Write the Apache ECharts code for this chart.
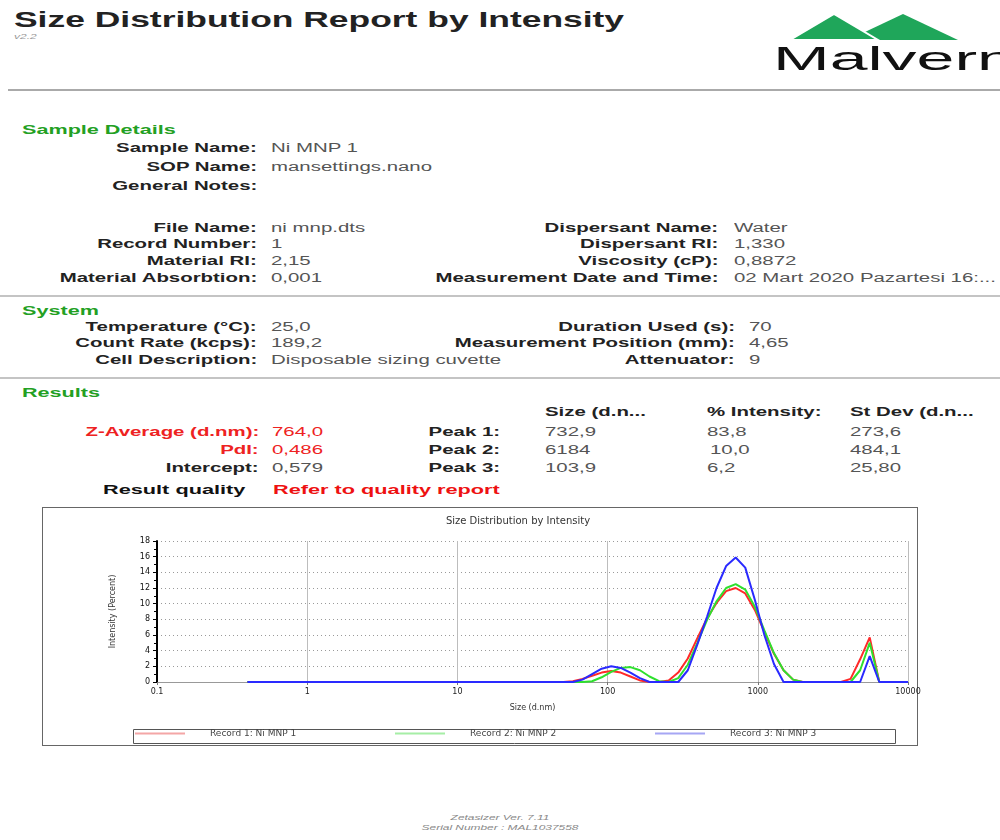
<!DOCTYPE html>
<html>
<head>
<meta charset="utf-8">
<title>Size Distribution Report by Intensity</title>
<script src="https://cdn.jsdelivr.net/npm/echarts/dist/echarts.min.js"></script>
<style>
  html, body { margin: 0; padding: 0; background: #fff; }
  body { width: 1000px; height: 840px; position: relative; overflow: hidden; font-family: 'Liberation Sans', Arial, sans-serif; }
  .t { position: absolute; white-space: nowrap; line-height: 16px; height: 16px; }
  .title { font-size: 22px; font-weight: bold; color: #222; line-height: 26px; height: 26px; }
  .ver { font-size: 8px; font-style: italic; color: #999; }
  .sec { font-size: 12px; font-weight: bold; color: #23a023; }
  .lbl { font-size: 12px; font-weight: bold; color: #222; }
  .val { font-size: 12px; color: #555; }
  .rlbl { font-size: 12px; font-weight: bold; color: #ee2222; }
  .rval { font-size: 12px; color: #ee2222; }
  .q { font-size: 13px; font-weight: bold; color: #111; }
  .rq { font-size: 13px; font-weight: bold; color: #ee1111; }
  .foot { font-size: 7px; font-style: italic; color: #888; }
  .logo { font-size: 34px; color: #111; line-height: 36px; height: 36px; }
  .rule { position: absolute; left: 0; width: 1000px; background: #c4c4c4; }
  .chart-frame { position: absolute; left: 42px; top: 507px; width: 874px; height: 237px; border: 1px solid #666; background: #fff; }
  .chart { position: absolute; left: 43px; top: 508px; width: 910px; height: 237px; }
</style>
</head>
<body>
<svg style="position:absolute;left:0;top:0" width="1000" height="60">
  <polygon points="848,40 903,14 958,40" fill="#1fa65a"/>
  <polygon points="790,40 834,14 878,40" fill="#1fa65a" stroke="#fff" stroke-width="2"/>
</svg>
<div class="rule" style="top:89px;left:8px;height:2px;background:#aaa"></div>
<div class="rule" style="top:295px;height:2px"></div>
<div class="rule" style="top:377px;height:2px"></div>
<div class="chart-frame"></div>
<div id="main" class="chart"></div>

<script>
// size classes (d.nm)
const sizes = [
  0.4, 0.4632, 0.5365, 0.6213, 0.7195, 0.8332, 0.9649, 1.117, 1.294, 1.499,
  1.736, 2.010, 2.328, 2.696, 3.122, 3.615, 4.187, 4.849, 5.615, 6.503,
  7.531, 8.721, 10.10, 11.70, 13.54, 15.69, 18.17, 21.04, 24.36, 28.21,
  32.67, 37.84, 43.82, 50.75, 58.77, 68.06, 78.82, 91.28, 105.7, 122.4,
  141.8, 164.2, 190.1, 220.2, 255.0, 295.3, 342.0, 396.1, 458.7, 531.2,
  615.1, 712.4, 825.0, 955.4, 1106, 1281, 1484, 1718, 1990, 2305,
  2669, 3091, 3580, 4145, 4801, 5560, 6439, 7456, 8635, 10000
]

// intensity (percent)
const record1 = [
  0, 0, 0, 0, 0, 0, 0, 0, 0, 0,
  0, 0, 0, 0, 0, 0, 0, 0, 0, 0,
  0, 0, 0, 0, 0, 0, 0, 0, 0, 0,
  0, 0, 0, 0, 0.1, 0.4, 0.8, 1.2, 1.4, 1.2,
  0.7, 0.2, 0, 0, 0.2, 1.2, 3.0, 5.6, 8.1, 10.1,
  11.6, 12.0, 11.3, 9.2, 6.4, 3.6, 1.5, 0.3, 0, 0,
  0, 0, 0, 0.4, 2.9, 5.7, 0, 0, 0, 0
]
const record2 = [
  0, 0, 0, 0, 0, 0, 0, 0, 0, 0,
  0, 0, 0, 0, 0, 0, 0, 0, 0, 0,
  0, 0, 0, 0, 0, 0, 0, 0, 0, 0,
  0, 0, 0, 0, 0, 0, 0.1, 0.6, 1.3, 1.8,
  1.9, 1.5, 0.7, 0.1, 0, 0.5, 2.2, 5.0, 7.9, 10.3,
  12.0, 12.5, 11.8, 9.6, 6.6, 3.7, 1.5, 0.3, 0, 0,
  0, 0, 0, 0, 1.5, 5.0, 0, 0, 0, 0
]
const record3 = [
  0, 0, 0, 0, 0, 0, 0, 0, 0, 0,
  0, 0, 0, 0, 0, 0, 0, 0, 0, 0,
  0, 0, 0, 0, 0, 0, 0, 0, 0, 0,
  0, 0, 0, 0, 0, 0.3, 1.0, 1.7, 2.0, 1.8,
  1.2, 0.5, 0, 0, 0, 0, 1.5, 4.8, 8.3, 12.0,
  14.8, 15.9, 14.6, 10.5, 6.0, 2.3, 0, 0, 0, 0,
  0, 0, 0, 0, 0, 3.3, 0, 0, 0, 0
]

const recordNames = ['Record 1: Ni MNP 1', 'Record 2: Ni MNP 2', 'Record 3: Ni MNP 3']
const lineColors = ['#ff2a2a', '#2ee02e', '#2a2aff']
const legendColors = ['#f4a6a6', '#a6eea6', '#a6a6f4']
const xTickLabels = ['0.1', '1', '10', '100', '1000', '10000']

// report text: [text, x, y(center), class, anchor, scaleX]
const texts = [
  ['Size Distribution Report by Intensity', 14, 20, 'title', 'left', 1.61],
  ['v2.2', 14, 37, 'ver', 'left', 1.5],
  ['Malvern', 773, 58, 'logo', 'left', 2.0],

  ['Sample Details', 22, 130, 'sec', 'left', 1.8],
  ['Sample Name:', 257, 148, 'lbl', 'right', 1.7],
  ['Ni MNP 1', 271, 148, 'val', 'left', 1.7],
  ['SOP Name:', 257, 167, 'lbl', 'right', 1.7],
  ['mansettings.nano', 271, 167, 'val', 'left', 1.7],
  ['General Notes:', 257, 186, 'lbl', 'right', 1.7],

  ['File Name:', 257, 228, 'lbl', 'right', 1.7],
  ['ni mnp.dts', 271, 228, 'val', 'left', 1.7],
  ['Record Number:', 257, 244, 'lbl', 'right', 1.7],
  ['1', 271, 244, 'val', 'left', 1.7],
  ['Material RI:', 257, 261, 'lbl', 'right', 1.7],
  ['2,15', 271, 261, 'val', 'left', 1.7],
  ['Material Absorbtion:', 257, 278, 'lbl', 'right', 1.7],
  ['0,001', 271, 278, 'val', 'left', 1.7],
  ['Dispersant Name:', 718, 228, 'lbl', 'right', 1.7],
  ['Water', 734, 228, 'val', 'left', 1.7],
  ['Dispersant RI:', 718, 244, 'lbl', 'right', 1.7],
  ['1,330', 734, 244, 'val', 'left', 1.7],
  ['Viscosity (cP):', 718, 261, 'lbl', 'right', 1.7],
  ['0,8872', 734, 261, 'val', 'left', 1.7],
  ['Measurement Date and Time:', 718, 278, 'lbl', 'right', 1.7],
  ['02 Mart 2020 Pazartesi 16:...', 734, 278, 'val', 'left', 1.7],

  ['System', 22, 311, 'sec', 'left', 1.8],
  ['Temperature (°C):', 257, 327, 'lbl', 'right', 1.7],
  ['25,0', 271, 327, 'val', 'left', 1.7],
  ['Count Rate (kcps):', 257, 343, 'lbl', 'right', 1.7],
  ['189,2', 271, 343, 'val', 'left', 1.7],
  ['Cell Description:', 257, 360, 'lbl', 'right', 1.7],
  ['Disposable sizing cuvette', 271, 360, 'val', 'left', 1.7],
  ['Duration Used (s):', 735, 327, 'lbl', 'right', 1.7],
  ['70', 749, 327, 'val', 'left', 1.7],
  ['Measurement Position (mm):', 735, 343, 'lbl', 'right', 1.7],
  ['4,65', 749, 343, 'val', 'left', 1.7],
  ['Attenuator:', 735, 360, 'lbl', 'right', 1.7],
  ['9', 749, 360, 'val', 'left', 1.7],

  ['Results', 22, 393, 'sec', 'left', 1.8],
  ['Size (d.n...', 545, 412, 'lbl', 'left', 1.7],
  ['% Intensity:', 707, 412, 'lbl', 'left', 1.7],
  ['St Dev (d.n...', 850, 412, 'lbl', 'left', 1.7],
  ['Z-Average (d.nm):', 259, 432, 'rlbl', 'right', 1.7],
  ['764,0', 272, 432, 'rval', 'left', 1.7],
  ['PdI:', 259, 450, 'rlbl', 'right', 1.7],
  ['0,486', 272, 450, 'rval', 'left', 1.7],
  ['Intercept:', 259, 468, 'lbl', 'right', 1.7],
  ['0,579', 272, 468, 'val', 'left', 1.7],
  ['Peak 1:', 500, 432, 'lbl', 'right', 1.7],
  ['Peak 2:', 500, 450, 'lbl', 'right', 1.7],
  ['Peak 3:', 500, 468, 'lbl', 'right', 1.7],
  ['732,9', 545, 432, 'val', 'left', 1.7],
  ['6184', 545, 450, 'val', 'left', 1.7],
  ['103,9', 545, 468, 'val', 'left', 1.7],
  ['83,8', 707, 432, 'val', 'left', 1.7],
  ['10,0', 710, 450, 'val', 'left', 1.7],
  ['6,2', 707, 468, 'val', 'left', 1.7],
  ['273,6', 850, 432, 'val', 'left', 1.7],
  ['484,1', 850, 450, 'val', 'left', 1.7],
  ['25,80', 850, 468, 'val', 'left', 1.7],
  ['Result quality', 103, 490, 'q', 'left', 1.67],
  ['Refer to quality report', 273, 490, 'rq', 'left', 1.67],

  ['Zetasizer Ver. 7.11', 500, 818, 'foot', 'center', 1.7],
  ['Serial Number : MAL1037558', 500, 828, 'foot', 'center', 1.7]
]

texts.forEach(([txt, x, y, cls, anchor, k]) => {
  let el = document.createElement('div')
  el.className = 't ' + cls
  el.textContent = txt
  document.body.appendChild(el)
  let h = el.offsetHeight
  el.style.top = (y - h / 2) + 'px'
  if (anchor === 'right') {
    el.style.right = (1000 - x) + 'px'
    el.style.transformOrigin = 'right center'
    el.style.transform = 'scaleX(' + k + ')'
  } else if (anchor === 'center') {
    el.style.left = x + 'px'
    el.style.transformOrigin = 'center center'
    el.style.transform = 'translateX(-50%) scaleX(' + k + ')'
  } else {
    el.style.left = x + 'px'
    el.style.transformOrigin = 'left center'
    el.style.transform = 'scaleX(' + k + ')'
  }
})

let myChart = echarts.init(document.getElementById('main'))
const records = [record1, record2, record3]

// one legend per record so the items sit at the report's fixed slots
const legendLeft = [92, 352, 612]

let option = {
  animation: false,
  textStyle: { fontFamily: 'Liberation Sans' },
  title: {
    text: 'Size Distribution by Intensity',
    left: 470,
    top: 3,
    textAlign: 'center',
    textStyle: { fontSize: 10, fontWeight: 'normal', color: '#333', fontFamily: 'DejaVu Sans' }
  },
  grid: { left: 114, width: 751, top: 33, bottom: 63, containLabel: false, outerBoundsMode: 'none' },
  graphic: [
    {
      type: 'rect',
      left: 88,
      top: 219,
      shape: { width: 762, height: 14 },
      style: { fill: 'none', stroke: '#555', lineWidth: 1 }
    }
  ],
  legend: recordNames.map((n, i) => ({
    left: legendLeft[i],
    top: 221,
    icon: 'rect',
    itemWidth: 50,
    itemHeight: 2,
    padding: 0,
    textStyle: { fontSize: 9, color: '#444', padding: [0, 0, 0, 20], fontFamily: 'DejaVu Sans' },
    data: [{ name: n, itemStyle: { color: legendColors[i] } }]
  })),
  xAxis: {
    type: 'log',
    logBase: 10,
    min: 0.1,
    max: 10000,
    name: 'Size (d.nm)',
    nameLocation: 'middle',
    nameGap: 22,
    nameTextStyle: { fontSize: 8, color: '#333', fontFamily: 'DejaVu Sans' },
    axisLine: { lineStyle: { color: '#999' } },
    axisTick: { show: true, length: 3, lineStyle: { color: '#777' } },
    axisLabel: {
      fontSize: 8,
      color: '#222',
      margin: 6,
      fontFamily: 'DejaVu Sans',
      formatter: (v) => xTickLabels[Math.round(Math.log10(v)) + 1]
    },
    splitLine: { show: true, lineStyle: { color: '#bdbdbd', width: 1 } }
  },
  yAxis: {
    type: 'value',
    min: 0,
    max: 18,
    interval: 2,
    name: 'Intensity (Percent)',
    nameLocation: 'middle',
    nameGap: 40,
    nameTextStyle: { fontSize: 8, color: '#333', fontFamily: 'DejaVu Sans' },
    axisLine: { show: true, lineStyle: { color: '#000', width: 2 } },
    axisTick: { show: true, length: 4, lineStyle: { color: '#000' } },
    minorTick: { show: true, splitNumber: 2, length: 3, lineStyle: { color: '#000' } },
    axisLabel: { fontSize: 8, color: '#111', margin: 7, fontFamily: 'DejaVu Sans' },
    splitLine: { show: true, lineStyle: { color: '#9a9a9a', type: [1, 3] } }
  },
  series: recordNames.map((n, i) => ({
    name: n,
    type: 'line',
    symbol: 'none',
    color: lineColors[i],
    lineStyle: { width: 2, color: lineColors[i] },
    data: sizes.map((s, j) => [s, records[i][j]])
  }))
}

myChart.setOption(option)
</script>
</body>
</html>
